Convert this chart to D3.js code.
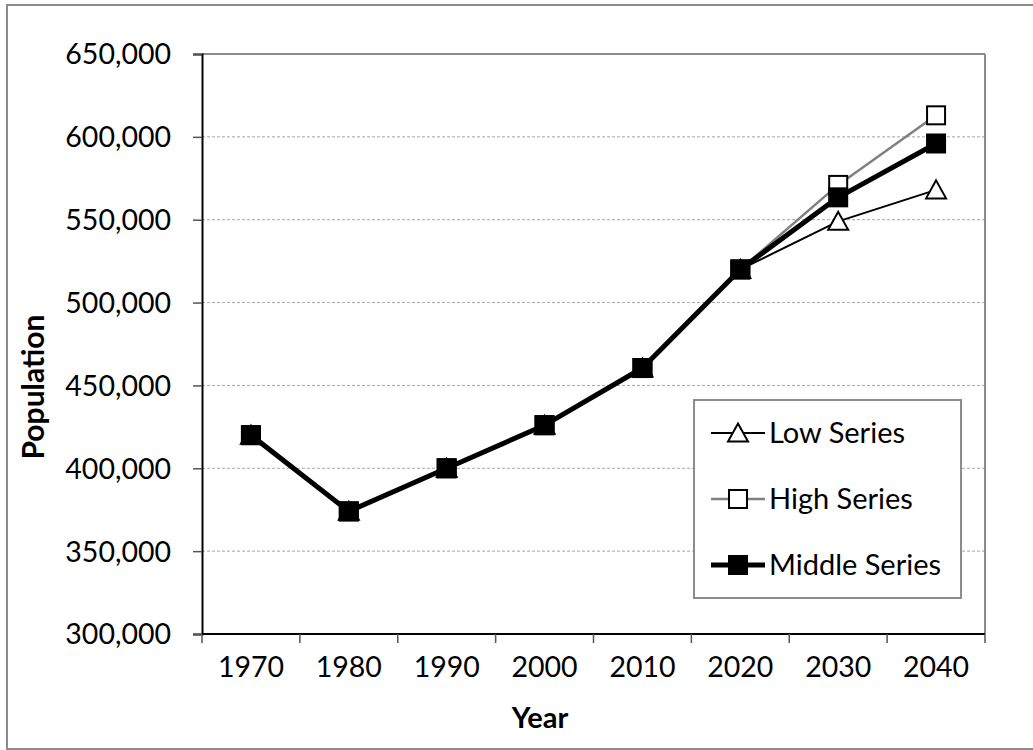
<!DOCTYPE html>
<html><head><meta charset="utf-8">
<script src="https://cdn.jsdelivr.net/npm/d3@7"></script>
<style>body{margin:0;background:#fff;} svg{display:block;} text{font-family:Lato, "Open Sans", sans-serif;}</style>
</head><body>
<svg id="chart" width="1033" height="750"></svg>
<script>
const years = ["1970","1980","1990","2000","2010","2020","2030","2040"];
const lowSeries = [420000,374000,400000,426000,460500,520000,549000,568000];
const highSeries = [420000,374000,400000,426000,460500,520000,571000,613000];
const middleSeries = [420000,374000,400000,426000,460500,520000,563500,596000];
const yTicks = [300000,350000,400000,450000,500000,550000,600000,650000];
const seriesNames = ["Low Series","High Series","Middle Series"];

const svg = d3.select("#chart");
const L = 202, R = 985, T = 54, B = 634;

svg.append("rect").attr("x",7).attr("y",5).attr("width",1030).attr("height",744)
  .attr("fill","#fff").attr("stroke","#8c8c8c").attr("stroke-width",2);

const x = d3.scaleBand().domain(years).range([L,R]);
const y = d3.scaleLinear().domain([300000,650000]).range([B,T]);

// gridlines
svg.append("g").selectAll("line").data(yTicks.filter(v=>v>300000 && v<650000)).join("line")
  .attr("x1",L).attr("x2",R).attr("y1",d=>y(d)).attr("y2",d=>y(d))
  .attr("stroke","#a6a6a6").attr("stroke-width",1).attr("stroke-dasharray","3,2");

// plot border top/right
svg.append("line").attr("x1",L).attr("x2",R).attr("y1",T).attr("y2",T).attr("stroke","#8c8c8c").attr("stroke-width",2);
svg.append("line").attr("x1",R).attr("x2",R).attr("y1",T).attr("y2",B).attr("stroke","#8c8c8c").attr("stroke-width",2);

const fmt = d3.format(",");
// y axis
const yAxis = svg.append("g").attr("transform",`translate(${L},0)`)
  .call(d3.axisLeft(y).tickValues(yTicks).tickFormat(fmt).tickSize(9).tickPadding(22));
yAxis.select(".domain").attr("stroke","#000").attr("stroke-width",2);
yAxis.selectAll(".tick line").attr("stroke","#555").attr("stroke-width",1.5);
yAxis.selectAll("text").attr("font-size",28.5).attr("fill","#000").attr("dy","0.35em");

// x axis
const xAxis = svg.append("g").attr("transform",`translate(0,${B})`)
  .call(d3.axisBottom(x).tickSize(0).tickPadding(23));
xAxis.select(".domain").remove();
xAxis.selectAll("text").attr("font-size",28.5).attr("fill","#000");
svg.append("line").attr("x1",L).attr("x2",R).attr("y1",B).attr("y2",B).attr("stroke","#000").attr("stroke-width",2);
const bounds = years.map(d=>x(d)).concat([R]);
svg.append("g").selectAll("line").data(bounds).join("line")
  .attr("x1",d=>d).attr("x2",d=>d).attr("y1",B).attr("y2",B+9)
  .attr("stroke","#555").attr("stroke-width",1.5);

// axis titles
svg.append("text").attr("transform","translate(44,387) rotate(-90)").attr("text-anchor","middle")
  .attr("font-size",30).attr("font-weight","bold").text("Population");
svg.append("text").attr("x",540).attr("y",728).attr("text-anchor","middle")
  .attr("font-size",29).attr("font-weight","bold").text("Year");

const cx = d => x(d) + x.bandwidth()/2;
const line = d3.line().x((d,i)=>cx(years[i])).y(d=>y(d));

const styles = [
  {data: lowSeries, stroke:"#000", width:2, marker:"tri"},
  {data: highSeries, stroke:"#808080", width:2.5, marker:"open"},
  {data: middleSeries, stroke:"#000", width:5, marker:"fill"}
];

function drawMarker(g, mx, my, type){
  if(type==="tri"){
    const h=17, w=20;
    g.append("path").attr("d",`M${mx},${my-h/2-1}L${mx+w/2},${my+h/2}L${mx-w/2},${my+h/2}Z`)
      .attr("fill","#fff").attr("stroke","#000").attr("stroke-width",2);
  } else if(type==="open"){
    g.append("rect").attr("x",mx-9).attr("y",my-9).attr("width",18).attr("height",18)
      .attr("fill","#fff").attr("stroke","#000").attr("stroke-width",2);
  } else {
    g.append("rect").attr("x",mx-10).attr("y",my-10).attr("width",20).attr("height",20)
      .attr("fill","#000");
  }
}

styles.forEach(s=>{
  const g = svg.append("g");
  g.append("path").datum(s.data).attr("d",line).attr("fill","none")
    .attr("stroke",s.stroke).attr("stroke-width",s.width).attr("stroke-linejoin","round");
  s.data.forEach((v,i)=>drawMarker(g, cx(years[i]), y(v), s.marker));
});

// legend
const lg = svg.append("g");
lg.append("rect").attr("x",694).attr("y",400).attr("width",267).attr("height",198)
  .attr("fill","#fff").attr("stroke","#8c8c8c").attr("stroke-width",2);
const rowsY = [433,499,565];
styles.forEach((s,i)=>{
  const ry = rowsY[i];
  lg.append("line").attr("x1",711).attr("x2",765).attr("y1",ry).attr("y2",ry)
    .attr("stroke",s.stroke).attr("stroke-width",s.width);
  drawMarker(lg, 738, ry, s.marker);
  lg.append("text").attr("x",769).attr("y",ry).attr("dy","0.35em")
    .attr("font-size",29).attr("fill","#000").text(seriesNames[i]);
});
</script>
</body></html>
